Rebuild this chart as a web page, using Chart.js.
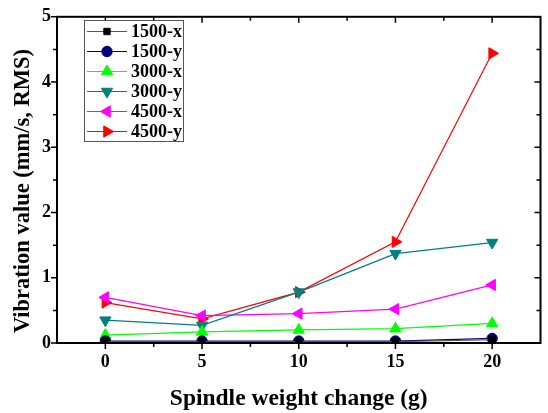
<!DOCTYPE html>
<html>
<head>
<meta charset="utf-8">
<script src="https://cdn.jsdelivr.net/npm/chart.js@4/dist/chart.umd.min.js"></script>
<style>
  html, body { margin: 0; padding: 0; background: #fff; }
  #wrap { width: 548px; height: 413px; }
</style>
</head>
<body>
<div id="wrap"><canvas id="chart"></canvas></div>
<script>
// spindle weight change (g)
const weights = [0, 5, 10, 15, 20];
const xTicks = [0, 5, 10, 15, 20];
const yTicks = [0, 1, 2, 3, 4, 5];

// vibration values (mm/s, RMS)
const v1500x = [0.02, 0.02, 0.02, 0.02, 0.05];
const v1500y = [0.03, 0.03, 0.03, 0.03, 0.07];
const v3000x = [0.12, 0.17, 0.20, 0.22, 0.30];
const v3000y = [0.35, 0.27, 0.78, 1.37, 1.54];
const v4500x = [0.70, 0.42, 0.45, 0.52, 0.89];
const v4500y = [0.62, 0.37, 0.78, 1.55, 4.44];

const FONT = '"Liberation Serif", "Times New Roman", serif';
const yTitle = 'Vibration value (mm/s, RMS)';

function pts(vals) {
    return weights.map((w, i) => ({ x: w, y: vals[i] }));
}

function series(label, vals, color, lineColor, style, rot) {
    let r = 6.5;
    if (style === 'rect') r = 4.5;
    if (style === 'circle') r = 5.2;
    return {
        label: label,
        data: pts(vals),
        borderColor: lineColor,
        backgroundColor: color,
        pointBorderColor: color,
        pointBackgroundColor: color,
        pointBorderWidth: 1,
        borderWidth: 1.2,
        pointStyle: style,
        pointRotation: rot,
        pointRadius: r,
        tension: 0
    };
}

const datasets = [
    series('1500-x', v1500x, '#000000', '#555555', 'rect', 0),
    series('1500-y', v1500y, '#000080', '#000080', 'circle', 0),
    series('3000-x', v3000x, '#00ff00', '#00ff00', 'triangle', 0),
    series('3000-y', v3000y, '#008080', '#008080', 'triangle', 180),
    series('4500-x', v4500x, '#ff00ff', '#ff00ff', 'triangle', -90),
    series('4500-y', v4500y, '#ff0000', '#ff0000', 'triangle', 90)
];

// frame, tick marks, y title and the boxed legend
const framePlugin = {
    id: 'frame',
    afterDraw(chart) {
        const ctx = chart.ctx;
        const a = chart.chartArea;
        const xs = chart.scales.x;
        const ys = chart.scales.y;
        ctx.save();
        ctx.strokeStyle = '#000';

        // ticks
        ctx.lineWidth = 1.5;
        for (let v = 0; v <= 5.001; v += 0.5) {
            const y = ys.getPixelForValue(v);
            const len = Number.isInteger(v) ? 6 : 4;
            ctx.beginPath();
            ctx.moveTo(a.left - len, y); ctx.lineTo(a.left, y);
            ctx.moveTo(a.right, y); ctx.lineTo(a.right - len, y);
            ctx.stroke();
        }
        for (let v = -2.5; v <= 22.5; v += 2.5) {
            const x = xs.getPixelForValue(v);
            if (x < a.left + 1 || x > a.right - 1) continue;
            const len = (v % 5 === 0) ? 6 : 4;
            ctx.beginPath();
            ctx.moveTo(x, a.bottom); ctx.lineTo(x, a.bottom + len);
            ctx.moveTo(x, a.top); ctx.lineTo(x, a.top + len);
            ctx.stroke();
        }

        // frame
        ctx.lineWidth = 2;
        ctx.strokeRect(a.left, a.top, a.right - a.left, a.bottom - a.top);

        // y axis title, sits a bit below the plot centre in the original
        ctx.save();
        ctx.translate(23, 191);
        ctx.rotate(-Math.PI / 2);
        ctx.fillStyle = '#000';
        ctx.font = 'bold 22.5px ' + FONT;
        ctx.textAlign = 'center';
        ctx.textBaseline = 'middle';
        ctx.fillText(yTitle, 0, 0);
        ctx.restore();

        // legend
        const lx = 84, ly = 20, lw = 99, lh = 121;
        ctx.fillStyle = '#fff';
        ctx.fillRect(lx, ly, lw, lh);
        ctx.lineWidth = 1;
        ctx.strokeStyle = '#555';
        ctx.strokeRect(lx + 0.5, ly + 0.5, lw, lh);
        ctx.font = 'bold 18px ' + FONT;
        ctx.textBaseline = 'middle';
        chart.data.datasets.forEach((ds, i) => {
            const y = 31.5 + i * 20;
            ctx.strokeStyle = ds.borderColor;
            ctx.lineWidth = 1.2;
            ctx.beginPath();
            ctx.moveTo(87, y); ctx.lineTo(127, y);
            ctx.stroke();
            ctx.fillStyle = ds.pointBackgroundColor;
            ctx.strokeStyle = ds.pointBorderColor;
            ctx.lineWidth = 1;
            Chart.helpers.drawPoint(ctx, {
                pointStyle: ds.pointStyle,
                rotation: ds.pointRotation,
                radius: ds.pointRadius,
                borderWidth: 1
            }, 107, y);
            ctx.fillStyle = '#000';
            ctx.fillText(ds.label, 131, y + 1);
        });
        ctx.restore();
    }
};

new Chart(document.getElementById('chart'), {
    type: 'line',
    data: { datasets: datasets },
    options: {
        responsive: true,
        maintainAspectRatio: false,
        animation: false,
        layout: { padding: { top: 11, right: 5, left: 0, bottom: 0 } },
        plugins: {
            legend: { display: false },
            tooltip: { enabled: false }
        },
        scales: {
            x: {
                type: 'linear',
                min: -2.5,
                max: 22.5,
                afterBuildTicks: s => { s.ticks = xTicks.map(v => ({ value: v })); },
                afterFit: s => { s.height = 70; },
                grid: { display: false, drawTicks: false },
                border: { display: false },
                ticks: {
                    color: '#000',
                    padding: 9,
                    maxRotation: 0,
                    font: { family: FONT, size: 18, weight: 'bold' }
                },
                title: {
                    display: true,
                    text: 'Spindle weight change (g)',
                    color: '#000',
                    padding: { top: 0, bottom: 0 },
                    font: { family: FONT, size: 23.5, weight: 'bold' }
                }
            },
            y: {
                min: 0,
                max: 5,
                afterBuildTicks: s => { s.ticks = yTicks.map(v => ({ value: v })); },
                afterFit: s => { s.width = 57; },
                grid: { display: false, drawTicks: false },
                border: { display: false },
                ticks: {
                    color: '#000',
                    padding: 6,
                    font: { family: FONT, size: 18, weight: 'bold' }
                }
            }
        }
    },
    plugins: [framePlugin]
});
</script>
</body>
</html>
